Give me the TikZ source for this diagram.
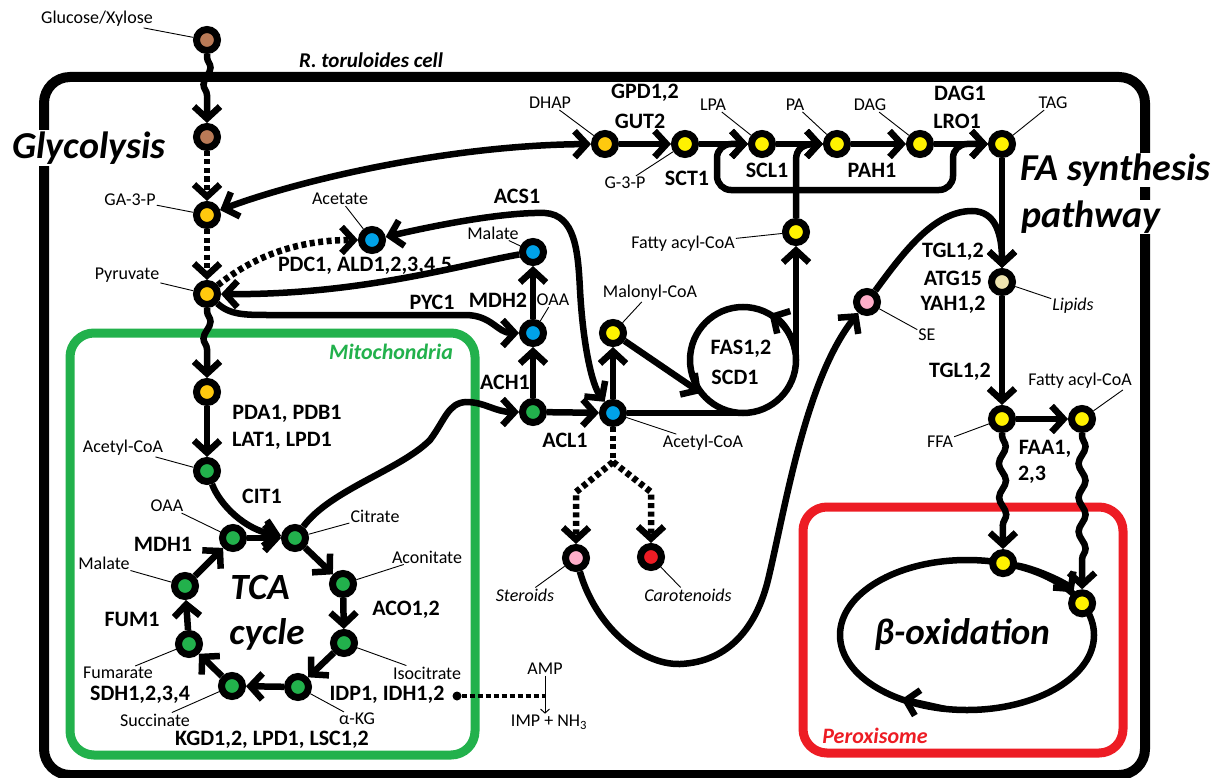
\documentclass[tikz,border=0pt]{standalone}
\usepackage{fontspec}
\setmainfont{Carlito}
\usetikzlibrary{arrows.meta,decorations.pathmorphing,calc}
\pgfdeclarelayer{back}
\pgfdeclarelayer{lines}
\pgfsetlayers{back,lines,main}
\definecolor{cbrown}{RGB}{185,122,87}
\definecolor{cgold}{RGB}{255,201,14}
\definecolor{cyel}{RGB}{255,242,0}
\definecolor{cblue}{RGB}{0,162,232}
\definecolor{cgreen}{RGB}{34,177,76}
\definecolor{cpink}{RGB}{255,174,201}
\definecolor{cred}{RGB}{237,28,36}
\definecolor{cbeige}{RGB}{239,228,176}
\newcommand\fsmall{\fontsize{18}{20}\selectfont}
\newcommand\fenz{\fontsize{22}{24}\selectfont\bfseries}
\newcommand\fbig{\fontsize{38}{40}\selectfont\bfseries\itshape}
\newcommand\fmed{\fontsize{22}{24}\selectfont\bfseries\itshape}
\begin{document}
\begin{tikzpicture}[x=1pt,y=-1pt,
  met/.style={circle,draw=black,line width=7pt,minimum size=21pt,inner sep=0pt,fill=#1},
  lbl/.style={font=\fsmall,inner sep=1pt},
  ilbl/.style={font=\fsmall\itshape,inner sep=1pt},
  enz/.style={font=\fenz,inner sep=1pt},
  ln/.style={line width=6.5pt},
  arr/.style={ln,-{Straight Barb[length=12pt,width=26pt]}},
  darr/.style={ln,{Straight Barb[length=12pt,width=26pt]}-{Straight Barb[length=12pt,width=26pt]}},
  dline/.style={dash pattern=on 5pt off 3.5pt},
  wavy/.style={decorate,decoration={snake,amplitude=3.5pt,segment length=34pt,pre length=3pt,post length=18pt}},
  leader/.style={line width=0.9pt},
]
\useasboundingbox (0,0) rectangle (1230,778);

% compartments
\begin{pgfonlayer}{back}
\fill[white] (0,0) rectangle (1230,778);
\draw[line width=10pt,rounded corners=26pt] (44,77) rectangle (1145,775);
\draw[cgreen,line width=9pt,rounded corners=24pt] (70,333) rectangle (475,755);
\draw[cred,line width=9pt,rounded corners=24pt] (803,507) rectangle (1123,753);
\end{pgfonlayer}

% big titles
\node[font=\fbig,fill=white,inner sep=2pt] (tglyc) at (89,148) {Glycolysis};
\node[font=\fbig,fill=white,inner sep=1pt,anchor=west] (tfa1) at (1019,170) {FA synthesis};
\node[font=\fbig,fill=white,inner sep=1pt,anchor=west] (tfa2) at (1020,217) {pathway};
\node[font=\fontsize{21}{23}\selectfont\bfseries\itshape] (tcell) at (371,60) {R. toruloides cell};
\node[font=\fmed,text=cgreen] (tmito) at (391,352) {Mitochondria};
\node[font=\fmed,text=cred] (tperox) at (875,736) {Peroxisome};
\node[font=\fontsize{37}{39}\selectfont\bfseries\itshape] (ttca) at (260,587) {TCA};
\node[font=\fontsize{37}{39}\selectfont\bfseries\itshape] (tcyc) at (267,634) {cycle};
\node[font=\fontsize{37}{39}\selectfont\bfseries\itshape] (tbox) at (962,635) {β-oxidation};

% metabolites
\node[met=cbrown] (g1) at (207,40) {};
\node[met=cbrown] (g2) at (207,137) {};
\node[met=cgold] (ga3p) at (207,215) {};
\node[met=cgold] (pyr) at (207,294) {};
\node[met=cgold] (mpyr) at (207,392) {};
\node[met=cgreen] (macoa) at (207,471) {};
\node[met=cgreen] (toaa) at (233,538) {};
\node[met=cgreen] (tcit) at (295,538) {};
\node[met=cgreen] (taco) at (343,584) {};
\node[met=cgreen] (ticit) at (344,643) {};
\node[met=cgreen] (takg) at (298,687) {};
\node[met=cgreen] (tsuc) at (232,686) {};
\node[met=cgreen] (tfum) at (189,644) {};
\node[met=cgreen] (tmal) at (185,586) {};
\node[met=cblue] (acet) at (372,240) {};
\node[met=cblue] (cmal) at (533,252) {};
\node[met=cblue] (coaa) at (533,333) {};
\node[met=cgreen] (ccit) at (533,412) {};
\node[met=cblue] (cacoa) at (613,413) {};
\node[met=cyel] (malo) at (613,333) {};
\node[met=cpink] (ster) at (576,558) {};
\node[met=cred] (car) at (651,557) {};
\node[met=cpink] (se) at (867,302) {};
\node[met=cyel] (fac1) at (796,232) {};
\node[met=cgold] (dhap) at (605,144) {};
\node[met=cyel] (g3p) at (685,144) {};
\node[met=cyel] (lpa) at (762,144) {};
\node[met=cyel] (pa) at (837,144) {};
\node[met=cyel] (dag) at (920,144) {};
\node[met=cyel] (tag) at (1002,144) {};
\node[met=cbeige] (lip) at (1002,282) {};
\node[met=cyel] (ffa) at (1002,419) {};
\node[met=cyel] (fac2) at (1082,419) {};
\node[met=cyel] (btop) at (1003.1,563.1) {};
\node[met=cyel] (bright) at (1082.1,603.3) {};

% helper coordinates
\coordinate (fasc) at (743,360);
\coordinate (fasb) at (743,413);
\coordinate (fasr) at (796,360);
\coordinate (fasin) at (701,393);
\coordinate (faup) at (796,160);
\coordinate (busm) at (796,190);
\coordinate (busl) at (717,190);
\coordinate (buslt) at (717,144);
\coordinate (busr) at (953,190);
\coordinate (busrt) at (953,144);
\coordinate (br) at (613,462);
\coordinate (brl) at (576,492);
\coordinate (brr) at (651,492);
\coordinate (bc) at (967,635);

% connectors
\begin{pgfonlayer}{lines}
\draw[arr,wavy] (g1) -- (g2);
\draw[arr,dline] (g2) -- (ga3p);
\draw[arr,dline] (ga3p) -- (pyr);
\draw[darr] (ga3p) .. controls (300,180) and (450,145) .. (dhap);
\draw[arr,dline] (pyr) .. controls (255,255) and (300,240) .. (acet);
\draw[arr] (cmal) .. controls (460,265) and (360,295) .. (pyr);
\draw[arr] (pyr) .. controls (230,315) and (245,315) .. (270,315) -- (465,315) .. controls (492,315) and (497,333) .. (coaa);
\draw[darr] (acet) .. controls (450,222) and (510,212) .. (545,213) .. controls (575,215) and (578,250) .. (580,290) .. controls (583,345) and (592,385) .. (cacoa);
\draw[arr] (ccit) -- (coaa);
\draw[arr] (coaa) -- (cmal);
\draw[arr] (ccit) -- (cacoa);
\draw[arr] (tcit) .. controls (330,490) and (400,470) .. (430,440) .. controls (445,420) and (448,403) .. (466,402) .. controls (485,402) and (495,412) .. (ccit);
\draw[arr] (cacoa) -- (malo);
\draw[arr] (malo) -- (fasin);
\draw[ln] (cacoa) -- (fasb);
\draw[ln] (fasc) circle[radius=53];
\draw[arr] (795.2,350.8) .. controls (792.5,335.3) and (783.1,322) .. (769.5,314.1);
\draw[arr] (fasr) -- (fac1);
\draw[ln,dline] (cacoa) -- (br);
\draw[arr,dline] (br) -- (brl) -- (ster);
\draw[arr,dline] (br) -- (brr) -- (car);
\draw[arr] (ster) .. controls (595,625) and (640,665) .. (680,664) .. controls (730,662) and (757,625) .. (768,580) .. controls (785,510) and (805,380) .. (se);
\draw[arr] (se) .. controls (905,250) and (935,211) .. (972,211) .. controls (996,211) and (1002,235) .. (lip);
% glycerolipid chain
\draw[arr] (dhap) -- (g3p);
\draw[arr] (g3p) -- (lpa);
\draw[arr] (lpa) -- (pa);
\draw[arr] (pa) -- (dag);
\draw[arr] (dag) -- (tag);
\draw[arr] (fac1) -- (faup) .. controls (796,149) and (803,144) .. (815,144) -- (pa);
\draw[arr,rounded corners=14pt] (busm) -- (busl) -- (buslt) -- (lpa);
\draw[arr,rounded corners=14pt] (busm) -- (busr) -- (busrt) -- (tag);
\draw[arr] (tag) -- (lip);
\draw[arr] (lip) -- (ffa);
\draw[arr] (ffa) -- (fac2);
\draw[arr,wavy] (ffa) -- (btop);
\draw[arr,wavy] (fac2) -- (bright);
\draw[ln] (bc) ellipse[x radius=127,y radius=75];
\draw[arr] (btop) .. controls (1038,569.2) and (1066.7,583.8) .. (bright);
\draw[arr] (944.9,708.9) -- (901.6,699.3);
% mitochondria
\draw[arr,wavy] (pyr) -- (mpyr);
\draw[arr] (mpyr) -- (macoa);
\draw[arr] (macoa) .. controls (220,505) and (245,530) .. (tcit);
\draw[arr] (toaa) -- (tcit);
\draw[arr] (tcit) -- (taco);
\draw[arr] (taco) -- (ticit);
\draw[arr] (ticit) -- (takg);
\draw[arr] (takg) -- (tsuc);
\draw[arr] (tsuc) -- (tfum);
\draw[arr] (tfum) -- (tmal);
\draw[arr] (tmal) -- (toaa);
\end{pgfonlayer}

% AMP deaminase
\node[circle,fill=black,inner sep=0pt,minimum size=9pt] (idot) at (457,696) {};
\node[lbl] (amp) at (545,669) {AMP};
\node[lbl] (imp) at (549,722) {IMP + NH\textsubscript{3}};
\coordinate (ampx) at (545,696);
\draw[line width=4pt,dash pattern=on 5pt off 3pt] (idot) -- (ampx);
\draw[line width=1pt,-{Straight Barb[length=4pt,width=9pt]}] (amp.south) -- (amp.south |- imp.north);

% metabolite labels
\node[lbl] (Lg1) at (97,19) {Glucose/Xylose};
\node[lbl] (Lga) at (130,200) {GA-3-P};
\node[lbl] (Lpyr) at (127,275) {Pyruvate};
\node[lbl] (Lmac) at (123,448) {Acetyl-CoA};
\node[lbl] (Ltoaa) at (167,506) {OAA};
\node[lbl] (Ltcit) at (375,516) {Citrate};
\node[lbl] (Ltaco) at (427,557) {Aconitate};
\node[lbl] (Lticit) at (427,673) {Isocitrate};
\node[lbl] (Ltakg) at (357,719) {α-KG};
\node[lbl] (Ltsuc) at (155,720) {Succinate};
\node[lbl] (Ltfum) at (118,673) {Fumarate};
\node[lbl] (Ltmal) at (104,563) {Malate};
\node[lbl] (Lacet) at (340,199) {Acetate};
\node[lbl] (Lcmal) at (493,233) {Malate};
\node[lbl] (Lcoaa) at (553,300) {OAA};
\node[lbl] (Lmalo) at (650,293) {Malonyl-CoA};
\node[lbl] (Lcacoa) at (703,443) {Acetyl-CoA};
\node[ilbl] (Lster) at (525,595) {Steroids};
\node[ilbl] (Lcar) at (688,595) {Carotenoids};
\node[lbl] (Lse) at (927,335) {SE};
\node[lbl] (Lfac1) at (683,244) {Fatty acyl-CoA};
\node[lbl] (Ldhap) at (550,103) {DHAP};
\node[lbl] (Lg3p) at (625,183) {G-3-P};
\node[lbl] (Llpa) at (713,105) {LPA};
\node[lbl] (Lpa) at (795,105) {PA};
\node[lbl] (Ldag) at (870,105) {DAG};
\node[lbl] (Ltag) at (1053,103) {TAG};
\node[ilbl] (Llip) at (1073,306) {Lipids};
\node[lbl] (Lffa) at (940,442) {FFA};
\node[lbl] (Lfac2) at (1080,381) {Fatty acyl-CoA};

\draw[leader] (Lg1) -- (g1);
\draw[leader] (Lga) -- (ga3p);
\draw[leader] (Lpyr) -- (pyr);
\draw[leader] (Lmac) -- (macoa);
\draw[leader] (Ltoaa) -- (toaa);
\draw[leader] (Ltcit) -- (tcit);
\draw[leader] (Ltaco) -- (taco);
\draw[leader] (Lticit) -- (ticit);
\draw[leader] (Ltakg) -- (takg);
\draw[leader] (Ltsuc) -- (tsuc);
\draw[leader] (Ltfum) -- (tfum);
\draw[leader] (Ltmal) -- (tmal);
\draw[leader] (Lacet) -- (acet);
\draw[leader] (Lcmal) -- (cmal);
\draw[leader] (Lcoaa) -- (coaa);
\draw[leader] (Lmalo) -- (malo);
\draw[leader] (Lcacoa) -- (cacoa);
\draw[leader] (Lster) -- (ster);
\draw[leader] (Lcar) -- (car);
\draw[leader] (Lse) -- (se);
\draw[leader] (Lfac1) -- (fac1);
\draw[leader] (Ldhap) -- (dhap);
\draw[leader] (Lg3p) -- (g3p);
\draw[leader] (Llpa) -- (lpa);
\draw[leader] (Lpa) -- (pa);
\draw[leader] (Ldag) -- (dag);
\draw[leader] (Ltag) -- (tag);
\draw[leader] (Llip) -- (lip);
\draw[leader] (Lffa) -- (ffa);
\draw[leader] ([xshift=-10pt]Lfac2.south east) -- (fac2);

% enzymes
\node[enz] (e1) at (365,266) {PDC1, ALD1,2,3,4,5};
\node[enz] (e2) at (517,196) {ACS1};
\node[enz] (e3) at (432,302) {PYC1};
\node[enz] (e4) at (498,300) {MDH2};
\node[enz] (e5) at (505,382) {ACH1};
\node[enz] (e6) at (565,440) {ACL1};
\node[enz] (e7) at (645,93) {GPD1,2};
\node[enz] (e8) at (640,121) {GUT2};
\node[enz] (e9) at (687,178) {SCT1};
\node[enz] (e10) at (767,170) {SCL1};
\node[enz] (e11) at (872,170) {PAH1};
\node[enz] (e12) at (960,93) {DAG1};
\node[enz] (e13) at (957,121) {LRO1};
\node[enz] (e14) at (741,349) {FAS1,2};
\node[enz] (e15) at (735,377) {SCD1};
\node[enz] (e16) at (953,252) {TGL1,2};
\node[enz] (e17) at (953,278) {ATG15};
\node[enz] (e18) at (953,305) {YAH1,2};
\node[enz] (e19) at (960,372) {TGL1,2};
\node[enz] (e20) at (1045,449) {FAA1,};
\node[enz] (e21) at (1032,475) {2,3};
\node[enz] (e22) at (287,414) {PDA1, PDB1};
\node[enz] (e23) at (282,441) {LAT1, LPD1};
\node[enz] (e24) at (262,496) {CIT1};
\node[enz] (e25) at (163,544) {MDH1};
\node[enz] (e26) at (132,619) {FUM1};
\node[enz] (e27) at (140,695) {SDH1,2,3,4};
\node[enz] (e28) at (272,740) {KGD1,2, LPD1, LSC1,2};
\node[enz] (e29) at (387,695) {IDP1, IDH1,2};
\node[enz] (e30) at (406,610) {ACO1,2};
\end{tikzpicture}
\end{document}
